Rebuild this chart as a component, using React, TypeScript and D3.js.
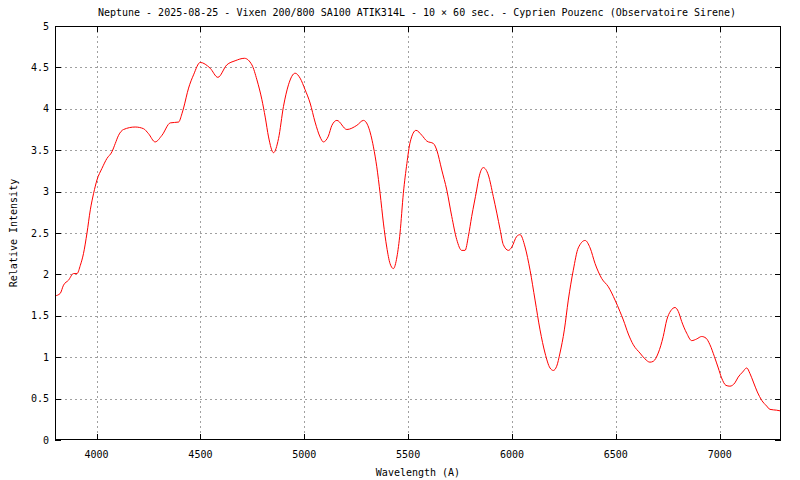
import React from "react";
import * as d3 from "d3";

const TITLE = "Neptune - 2025-08-25 - Vixen 200/800 SA100 ATIK314L - 10 \u00d7 60 sec. - Cyprien Pouzenc (Observatoire Sirene)";
const X_LABEL = "Wavelength (A)";
const Y_LABEL = "Relative Intensity";

const xTicks = [4000, 4500, 5000, 5500, 6000, 6500, 7000];
const yTicks = [0, 0.5, 1, 1.5, 2, 2.5, 3, 3.5, 4, 4.5, 5];

const wavelengths = [
  3800, 3825, 3841, 3865, 3889, 3906, 3922, 3937, 3954, 3970, 3986, 4002, 4026, 4050, 4074, 4090,
  4106, 4130, 4186, 4226, 4250, 4282, 4315, 4355, 4395, 4411, 4419, 4443, 4467, 4499, 4547, 4584,
  4627, 4667, 4712, 4748, 4772, 4796, 4812, 4828, 4852, 4876, 4900, 4924, 4956, 4980, 5004, 5028,
  5052, 5076, 5092, 5116, 5133, 5157, 5205, 5253, 5285, 5309, 5333, 5349, 5365, 5381, 5397, 5413,
  5429, 5446, 5461, 5477, 5494, 5510, 5538, 5566, 5590, 5622, 5638, 5662, 5686, 5710, 5734, 5758,
  5774, 5790, 5806, 5830, 5840, 5862, 5886, 5910, 5927, 5943, 5958, 5983, 5999, 6023, 6039, 6063,
  6087, 6111, 6135, 6159, 6183, 6199, 6215, 6231, 6252, 6271, 6295, 6319, 6352, 6376, 6400, 6432,
  6464, 6496, 6520, 6536, 6560, 6584, 6616, 6640, 6664, 6680, 6704, 6728, 6745, 6764, 6785, 6801,
  6817, 6841, 6865, 6889, 6913, 6934, 6953, 6974, 6993, 7009, 7030, 7049, 7073, 7089, 7110, 7130,
  7146, 7162, 7181, 7202, 7226, 7242, 7274, 7295,
];

const intensities = [
  1.74, 1.77, 1.87, 1.93, 2.01, 2.01, 2.11, 2.25, 2.5, 2.78, 2.98, 3.14, 3.28, 3.4, 3.48, 3.58,
  3.68, 3.75, 3.78, 3.76, 3.7, 3.6, 3.68, 3.83, 3.84, 3.94, 4.01, 4.25, 4.41, 4.56, 4.49, 4.38,
  4.53, 4.58, 4.61, 4.53, 4.35, 4.11, 3.9, 3.66, 3.47, 3.64, 4.03, 4.29, 4.43, 4.37, 4.23, 4.07,
  3.84, 3.66, 3.6, 3.67, 3.8, 3.86, 3.75, 3.8, 3.86, 3.78, 3.54, 3.3, 2.98, 2.62, 2.33, 2.13,
  2.07, 2.21, 2.5, 2.98, 3.34, 3.6, 3.74, 3.68, 3.61, 3.58, 3.5, 3.26, 3.02, 2.7, 2.42, 2.29,
  2.29, 2.46, 2.7, 3.02, 3.16, 3.29, 3.2, 2.94, 2.74, 2.54, 2.36, 2.29, 2.33, 2.46, 2.48, 2.33,
  2.05, 1.69, 1.33, 1.05, 0.87, 0.84, 0.89, 1.05, 1.33, 1.69, 2.05, 2.32, 2.41, 2.32, 2.13, 1.95,
  1.85, 1.69, 1.55, 1.45, 1.28, 1.15, 1.05, 0.98, 0.94, 0.95, 1.05, 1.25, 1.45, 1.56, 1.6, 1.55,
  1.43, 1.29, 1.2, 1.22, 1.25, 1.23, 1.15, 1.01, 0.87, 0.75, 0.66, 0.65, 0.69, 0.76, 0.82, 0.87,
  0.8, 0.7, 0.58, 0.48, 0.41, 0.37, 0.36, 0.35,
];

const W = 800;
const H = 480;
const M = { left: 55, right: 19, top: 26, bottom: 40 };
const FONT = "'DejaVu Sans Mono', monospace";

export default function App() {
  const x = d3.scaleLinear().domain([3800, 7295]).range([M.left, W - M.right]);
  const y = d3.scaleLinear().domain([0, 5]).range([H - M.bottom, M.top]);
  const data = wavelengths.map((w, i) => [w, intensities[i]] as [number, number]);
  const line = d3
    .line<[number, number]>()
    .x((d) => x(d[0]))
    .y((d) => y(d[1]))
    .curve(d3.curveMonotoneX);

  const x0 = M.left, x1 = W - M.right, y0 = H - M.bottom, y1 = M.top;
  const tick = 6;
  const grid = "#a0a0a0";

  return (
    <div style={{ position: "absolute", left: 0, top: 0 }}>
      <svg width={W} height={H} style={{ display: "block", background: "#fff" }} fontFamily={FONT}>
        <rect x={0} y={0} width={W} height={H} fill="#fff" />
        {/* grid */}
        {xTicks.map((t) => (
          <line key={"gx" + t} x1={Math.round(x(t)) + 0.5} x2={Math.round(x(t)) + 0.5} y1={y1} y2={y0}
            stroke={grid} strokeWidth={1} strokeDasharray="2,3" />
        ))}
        {yTicks.filter((t) => t > 0 && t < 5).map((t) => (
          <line key={"gy" + t} x1={x0} x2={x1} y1={Math.round(y(t)) + 0.5} y2={Math.round(y(t)) + 0.5}
            stroke={grid} strokeWidth={1} strokeDasharray="2,3" />
        ))}
        {/* ticks */}
        {xTicks.map((t) => (
          <g key={"tx" + t}>
            <line x1={Math.round(x(t)) + 0.5} x2={Math.round(x(t)) + 0.5} y1={y0} y2={y0 - tick} stroke="#000" />
            <line x1={Math.round(x(t)) + 0.5} x2={Math.round(x(t)) + 0.5} y1={y1} y2={y1 + tick} stroke="#000" />
            <text x={x(t)} y={y0 + 18} fontSize={10} textAnchor="middle" fill="#000">{t}</text>
          </g>
        ))}
        {yTicks.map((t) => (
          <g key={"ty" + t}>
            <line x1={x0} x2={x0 + tick} y1={Math.round(y(t)) + 0.5} y2={Math.round(y(t)) + 0.5} stroke="#000" />
            <line x1={x1} x2={x1 - tick} y1={Math.round(y(t)) + 0.5} y2={Math.round(y(t)) + 0.5} stroke="#000" />
            <text x={49} y={y(t)} dy="0.35em" fontSize={10} textAnchor="end" fill="#000">{String(t)}</text>
          </g>
        ))}
        {/* data */}
        <path d={line(data) || ""} fill="none" stroke="#ff0000" strokeWidth={1} />
        {/* frame */}
        <rect x={x0 + 0.5} y={y1 + 0.5} width={x1 - x0 - 1} height={y0 - y1 - 1} fill="none" stroke="#000" strokeWidth={1} />
        {/* labels */}
        <text x={417} y={16} fontSize={10} textAnchor="middle" fill="#000">{TITLE}</text>
        <text x={(x0 + x1) / 2} y={476} fontSize={10} textAnchor="middle" fill="#000">{X_LABEL}</text>
        <text transform={`translate(17,${(y0 + y1) / 2}) rotate(-90)`} fontSize={10} textAnchor="middle" fill="#000">{Y_LABEL}</text>
      </svg>
    </div>
  );
}
